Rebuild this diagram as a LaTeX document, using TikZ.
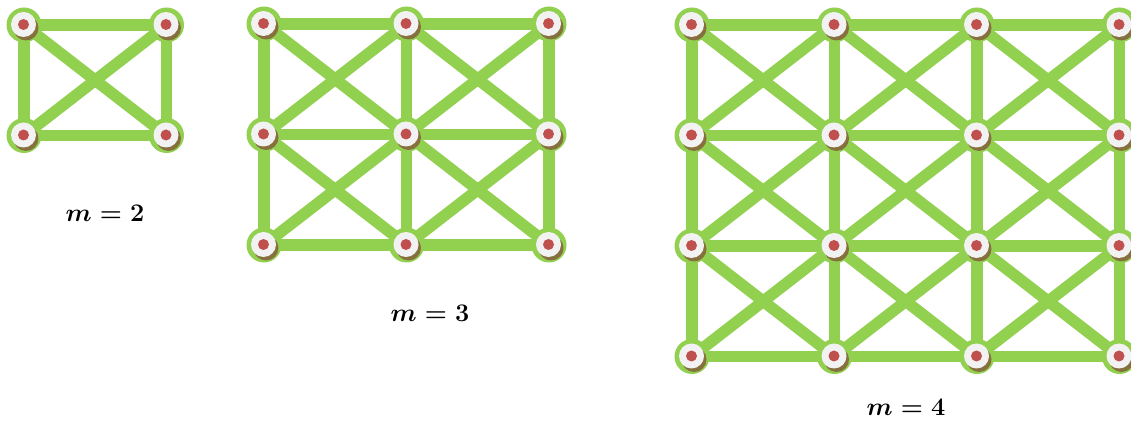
\documentclass[tikz,border=0pt]{standalone}
\usepackage{amsmath}
\usepackage{tikz}
\usetikzlibrary{backgrounds}
\definecolor{bargreen}{HTML}{92D050}
\definecolor{capwhite}{HTML}{F2F2F2}
\definecolor{pinred}{HTML}{C0504D}
\definecolor{pinshade}{HTML}{86703E}
\tikzset{
  joint/.style={circle, fill=bargreen, minimum size=0.7cm, inner sep=0pt,
    path picture={
      \fill[pinshade] ([shift={(2,3)}]path picture bounding box.center) circle[radius=12.5];
      \fill[capwhite] ([shift={(-0.5,-0.5)}]path picture bounding box.center) circle[radius=12.5];
      \fill[pinred] ([shift={(-0.5,-0.5)}]path picture bounding box.center) circle[radius=5.5];
    }},
  bar/.style={draw=bargreen, line width=0.23cm},
  caption/.style={font=\fontsize{14}{17}\selectfont\boldmath, inner sep=0pt}
}

\begin{document}
\begin{tikzpicture}[x=0.02cm,y=-0.02cm]
  \useasboundingbox (0,0) rectangle (1131,421);

  % joints of the three frames
  \foreach \m/\ox/\oy in {2/24/25, 3/264/24, 4/692/25} {
    \foreach \i in {1,...,\m} {
      \foreach \j in {1,...,\m} {
        \node[joint] (g\m-\i-\j) at ({\ox+(\i-1)*142.5},{\oy+(\j-1)*110.5}) {};
      }
    }
  }

  % bars: sides and both diagonals of each cell
  \begin{scope}[on background layer]
    \fill[white] (0,0) rectangle (1131,421);
    \foreach \m in {2,3,4} {
      \pgfmathtruncatemacro\n{\m-1}
      \foreach \i in {1,...,\m} {
        \foreach \j in {1,...,\n} {
          \pgfmathtruncatemacro\k{\j+1}
          \draw[bar] (g\m-\i-\j.center) -- (g\m-\i-\k.center);
          \draw[bar] (g\m-\j-\i.center) -- (g\m-\k-\i.center);
        }
      }
      \foreach \i in {1,...,\n} {
        \foreach \j in {1,...,\n} {
          \pgfmathtruncatemacro\ii{\i+1}
          \pgfmathtruncatemacro\jj{\j+1}
          \draw[bar] (g\m-\i-\j.center) -- (g\m-\ii-\jj.center);
          \draw[bar] (g\m-\ii-\j.center) -- (g\m-\i-\jj.center);
        }
      }
    }
  \end{scope}

  \node[caption] (cap2) at (105,213) {$\boldsymbol{m}=\mathbf{2}$};
  \node[caption] (cap3) at (430,313) {$\boldsymbol{m}=\mathbf{3}$};
  \node[caption] (cap4) at (906,407) {$\boldsymbol{m}=\mathbf{4}$};
\end{tikzpicture}
\end{document}
